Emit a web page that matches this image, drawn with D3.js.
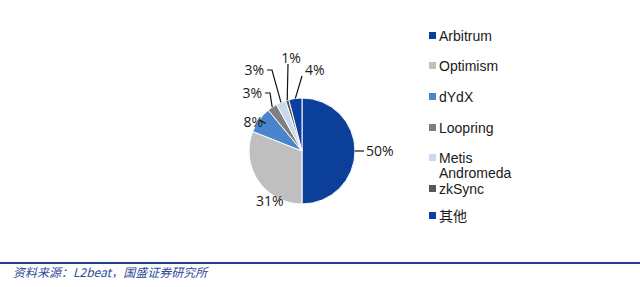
<!DOCTYPE html>
<html>
<head>
<meta charset="utf-8">
<script src="https://cdn.jsdelivr.net/npm/d3@7"></script>
<style>
  body { margin: 0; background: #fff; }
</style>
</head>
<body>
<div class="container_main"></div>
<script>
// data
const names = ["Arbitrum", "Optimism", "dYdX", "Loopring", "Metis Andromeda", "zkSync", "其他"];
const legendLines = [["Arbitrum"], ["Optimism"], ["dYdX"], ["Loopring"], ["Metis", "Andromeda"], ["zkSync"], ["其他"]];
const shares = [50, 31, 8, 3, 3, 1, 4];
const colors = ["#0b3f99", "#bfbfbf", "#4a85cc", "#7f7f7f", "#c6d9ef", "#575757", "#0c3fa0"];

// label layout (elbow point, text anchor point) relative to pie centre
const labelLayout = [
  {elbow: [60, 0], text: [64, 5], anchor: "start"},
  {elbow: null, text: [-46, 55], anchor: "start"},
  {elbow: [-37, -28], text: [-39, -24], anchor: "end"},
  {elbow: [-32, -58], text: [-40, -53], anchor: "end"},
  {elbow: [-30, -81], text: [-38, -76], anchor: "end"},
  {elbow: [-14, -87], text: [-11, -88], anchor: "middle"},
  {elbow: [0, -75], text: [3, -76], anchor: "start"}
];
const legendY = [36, 66, 97, 128, 158, 189, 216];

const svgwidth = 640, svgheight = 287;
const cx = 302, cy = 151, radius = 53;

const svg = d3.select(".container_main")
  .append("svg")
  .attr("width", svgwidth)
  .attr("height", svgheight)
  .style("font-family", "'Liberation Sans', Arial, sans-serif");

const pie = d3.pie().sort(null).value(d => d);
const arcs = pie(shares);
const arc = d3.arc().innerRadius(0).outerRadius(radius);

const g = svg.append("g").attr("transform", "translate(" + cx + "," + cy + ")");

g.selectAll(".slice")
  .data(arcs)
  .enter()
  .append("path")
    .attr("class", "slice")
    .attr("d", arc)
    .attr("fill", (d, i) => colors[i])
    .attr("stroke", "#fff")
    .attr("stroke-width", 1);

// leader lines
g.selectAll(".leader")
  .data(arcs.filter((d, i) => labelLayout[i].elbow))
  .enter()
  .append("polyline")
    .attr("class", "leader")
    .attr("fill", "none")
    .attr("stroke", "#111")
    .attr("stroke-width", 1.2)
    .attr("points", d => {
      const L = labelLayout[d.index];
      const a = (d.startAngle + d.endAngle) / 2;
      const p0 = [Math.sin(a) * radius, -Math.cos(a) * radius];
      const p2 = L.anchor === "end" ? [L.text[0] + 3, L.elbow[1]]
               : L.anchor === "start" && d.index === 0 ? [L.text[0] - 2, L.elbow[1]]
               : L.elbow;
      return [p0, L.elbow, p2].map(p => p.join(",")).join(" ");
    });

g.selectAll(".pct")
  .data(arcs)
  .enter()
  .append("text")
    .attr("class", "pct")
    .attr("x", d => labelLayout[d.index].text[0])
    .attr("y", d => labelLayout[d.index].text[1])
    .attr("text-anchor", d => labelLayout[d.index].anchor)
    .attr("font-family", "'Open Sans', 'Noto Sans', sans-serif")
    .attr("font-size", "14px")
    .attr("fill", "#1a1a1a")
    .text(d => d.data + "%");

// legend
const legend = svg.append("g").attr("class", "legend");
const items = legend.selectAll(".item")
  .data(names)
  .enter()
  .append("g")
    .attr("class", "item")
    .attr("transform", (d, i) => "translate(429," + legendY[i] + ")");

items.append("rect")
  .attr("x", 0).attr("y", -4)
  .attr("width", 7).attr("height", 7)
  .attr("fill", (d, i) => colors[i]);

items.append("text")
  .attr("x", 10)
  .attr("y", 5)
  .attr("font-size", "14px")
  .attr("fill", "#1a1a1a")
  .style("font-family", (d, i) => i === 6 ? "'Noto Sans CJK SC', sans-serif" : null)
  .each(function(d, i) {
    const t = d3.select(this);
    legendLines[i].forEach((line, k) => {
      t.append("tspan").attr("x", 10).attr("dy", k === 0 ? 0 : 15).text(line);
    });
  });

// footer
svg.append("line")
  .attr("x1", 0).attr("x2", svgwidth)
  .attr("y1", 263).attr("y2", 263)
  .attr("stroke", "#233f8c")
  .attr("stroke-width", 2);

svg.append("text")
  .attr("x", 13)
  .attr("y", 277)
  .attr("font-size", "12px")
  .attr("font-style", "italic")
  .attr("fill", "#2c4a9c")
  .attr("font-family", "'Noto Sans CJK SC', sans-serif")
  .text("资料来源：L2beat，国盛证券研究所");
</script>
</body>
</html>
